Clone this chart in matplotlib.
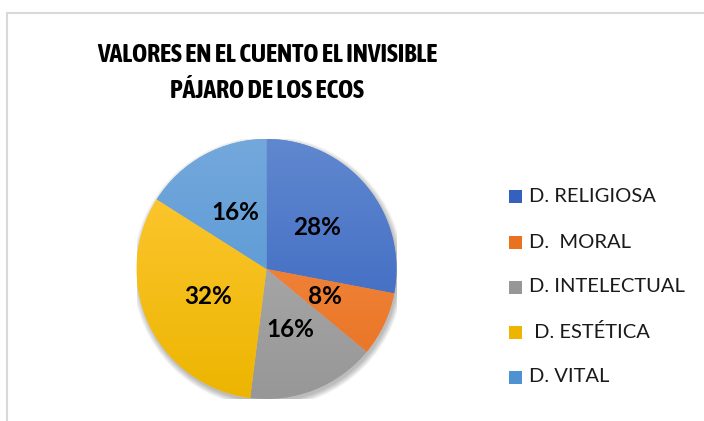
import numpy as np
import matplotlib
matplotlib.use("Agg")
import matplotlib.pyplot as plt
from matplotlib.lines import Line2D
from matplotlib.patches import Circle, Rectangle
from matplotlib.colors import to_rgb
from matplotlib import font_manager

## DATA
categories = ["D. RELIGIOSA", "D.  MORAL", "D. INTELECTUAL", " D. ESTÉTICA", "D. VITAL"]
percentages = [28, 8, 16, 32, 16]
title_text = "VALORES EN EL CUENTO EL INVISIBLE\nPÁJARO DE LOS ECOS"

# top (light) / bottom (dark) colours for the excel-like gradient
color_top = ["#6088D0", "#F4914F", "#B3B3B3", "#FFCA3A", "#73A8DC"]
color_bottom = ["#3461BD", "#E9711F", "#979797", "#EDB500", "#4F92D2"]

plt.rcParams["font.family"] = ["Lato", "DejaVu Sans"]

# narrow face for the title if one is around (calibri is rather condensed)
narrow = [f for f in font_manager.fontManager.ttflist
          if ("Condensed" in f.name or "Narrow" in f.name) and f.weight in ("bold", 700)]
if narrow:
    title_font = dict(family=narrow[0].name, fontsize=18.5)
else:
    title_font = dict(family=["Lato"], fontsize=15.5)

W, H = 704, 421
fig = plt.figure(figsize=(W / 100, H / 100), dpi=100)
fig.patch.set_facecolor("white")

# chart border (cut off at right and bottom)
fig.add_artist(Line2D([7 / W, 1.0], [1 - 13 / H, 1 - 13 / H], color="#D9D9D9", lw=1.5))
fig.add_artist(Line2D([7 / W, 7 / W], [1 - 13 / H, 0.0], color="#D9D9D9", lw=1.5))

fig.text(267 / W, 1 - 72 / H, title_text, ha="center", va="center",
         fontweight="bold", color="#000000", linespacing=1.55, **title_font)

# pie axes: centre (266.5, 269) px, radius 130 px
cx, cy, r = 266.5, 269, 130
ax = fig.add_axes([(cx - r) / W, (H - cy - r) / H, 2 * r / W, 2 * r / H])

# soft shadow
for k in range(8):
    ax.add_patch(Circle((0.012, -0.022), 1.0 + 0.006 * k, color="#000000",
                        alpha=0.035, lw=0, zorder=0))

wedges, texts, autotexts = ax.pie(percentages, startangle=90, counterclock=False,
                                  autopct=lambda p: f"{p:.0f}%", pctdistance=0.5,
                                  colors=color_top,
                                  wedgeprops=dict(linewidth=0))

grad = np.linspace(0, 1, 256)[:, None]
for w, ct, cb in zip(wedges, color_top, color_bottom):
    c0, c1 = np.array(to_rgb(ct)), np.array(to_rgb(cb))
    img = c0[None, None, :] * (1 - grad[:, :, None]) + c1[None, None, :] * grad[:, :, None]
    im = ax.imshow(img, extent=(-1, 1, -1, 1), origin="upper", aspect="auto", zorder=1.5)
    im.set_clip_path(w)

for t in autotexts:
    t.set_fontsize(17.5)
    t.set_fontweight("bold")
    t.set_color("black")
    t.set_zorder(3)

ax.set_xlim(-1, 1)
ax.set_ylim(-1, 1)
ax.set_axis_off()

# legend
leg_y = [197, 242, 287, 332, 377]
for lab, ct, cb, y in zip(categories, color_top, color_bottom, leg_y):
    fig.add_artist(Rectangle((509 / W, 1 - (y + 6.5) / H), 13 / W, 13 / H,
                             transform=fig.transFigure, color=cb, lw=0))
    fig.text(529 / W, 1 - y / H, lab, ha="left", va="center",
             fontsize=14.5, color="#1a1a1a")

fig.savefig("out.png", dpi=100)
